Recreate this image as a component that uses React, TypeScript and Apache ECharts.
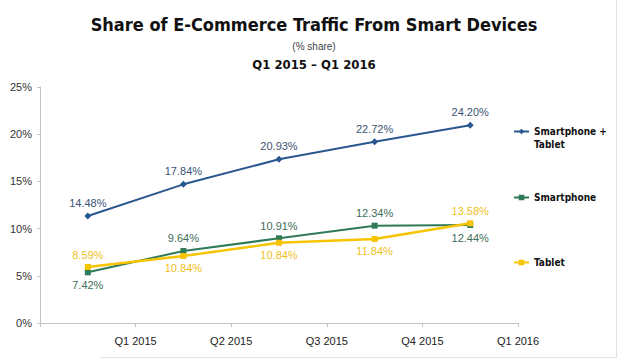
import React, { useEffect, useRef } from "react";
import * as echarts from "echarts";

const quarters = ["Q1 2015", "Q2 2015", "Q3 2015", "Q4 2015", "Q1 2016"];

const seriesNames = ["Smartphone + Tablet", "Smartphone", "Tablet"];

// plotted positions (% share)
const comboValues = [11.33, 14.69, 17.34, 19.2, 20.94];
const smartphoneValues = [5.37, 7.63, 8.97, 10.31, 10.38];
const tabletValues = [5.93, 7.1, 8.5, 8.9, 10.56];

// printed labels
const comboLabels = ["14.48%", "17.84%", "20.93%", "22.72%", "24.20%"];
const smartphoneLabels = ["7.42%", "9.64%", "10.91%", "12.34%", "12.44%"];
const tabletLabels = ["8.59%", "10.84%", "10.84%", "11.84%", "13.58%"];

const yTicks = [0, 5, 10, 15, 20, 25];

const comboSide = ["top", "top", "top", "top", "top"];
const smartphoneSide = ["bottom", "top", "top", "top", "bottom"];
const tabletSide = ["top", "bottom", "bottom", "bottom", "top"];

const colors = {
  combo: "#2b5790",
  comboLabel: "#3b5374",
  smartphone: "#2f7a58",
  smartphoneLabel: "#3d6e58",
  tablet: "#f6c400",
  tabletLabel: "#efbf1c",
};

const FONT = "'Liberation Sans', Arial, sans-serif";
const BOLD = "'DejaVu Sans Condensed', 'DejaVu Sans', sans-serif";

function build(values: number[], sides: string[]) {
  return values.map((v, i) => ({
    value: [i + 0.5, v],
    label: { position: sides[i] },
  }));
}

export default function App() {
  const ref = useRef<HTMLDivElement>(null);
  useEffect(() => {
    document.body.style.margin = "0";
    const chart = echarts.init(ref.current!, null, { renderer: "svg" });
    const labelBase = {
      show: true,
      fontFamily: FONT,
      fontSize: 11,
      distance: 4,
    };
    const legendText = { fontFamily: BOLD, fontWeight: "bold", fontSize: 10, color: "#111", lineHeight: 13 };
    chart.setOption({
      animation: false,
      backgroundColor: "#ffffff",
      title: [
        {
          text: "Share of E-Commerce Traffic From Smart Devices",
          left: 309,
          textAlign: "center",
          top: 10,
          textStyle: { fontFamily: BOLD, fontWeight: "bold", fontSize: 18, color: "#111" },
        },
        {
          text: "(% share)",
          left: 309,
          textAlign: "center",
          top: 36,
          textStyle: { fontFamily: FONT, fontWeight: "normal", fontSize: 10, color: "#444" },
        },
        {
          text: "Q1 2015 – Q1 2016",
          left: 309,
          textAlign: "center",
          top: 53,
          textStyle: { fontFamily: BOLD, fontWeight: "bold", fontSize: 13, color: "#111" },
        },
      ],
      grid: { left: 40, right: 101, top: 87, bottom: 40, containLabel: false },
      xAxis: {
        type: "value",
        min: 0,
        max: quarters.length,
        interval: 1,
        splitLine: { show: false },
        axisLine: { show: true, lineStyle: { color: "#c4c4c4", width: 1 } },
        axisTick: { show: true, length: 4, lineStyle: { color: "#c4c4c4" } },
        axisLabel: {
          fontFamily: FONT,
          fontSize: 11,
          color: "#222",
          margin: 12,
          formatter: (v: number) => (v >= 1 ? quarters[v - 1] : ""),
        },
      },
      yAxis: {
        type: "value",
        min: yTicks[0],
        max: yTicks[yTicks.length - 1],
        interval: 5,
        splitLine: { show: false },
        axisLine: { show: true, lineStyle: { color: "#c4c4c4", width: 1 } },
        axisTick: { show: true, length: 3, lineStyle: { color: "#c4c4c4" } },
        axisLabel: {
          fontFamily: FONT,
          fontSize: 11,
          color: "#333",
          margin: 8,
          formatter: (v: number) => v + "%",
        },
      },
      legend: [
        {
          data: [seriesNames[0]],
          left: 513,
          top: 112,
          padding: 0,
          itemWidth: 15,
          itemHeight: 7,
          formatter: () => " \nSmartphone +\nTablet",
          textStyle: legendText,
        },
        {
          data: [seriesNames[1]],
          left: 513,
          top: 191,
          padding: 0,
          itemWidth: 15,
          itemHeight: 7,
          textStyle: legendText,
        },
        {
          data: [seriesNames[2]],
          left: 513,
          top: 256,
          padding: 0,
          itemWidth: 15,
          itemHeight: 7,
          textStyle: legendText,
        },
      ],
      graphic: [
        {
          type: "polyline",
          shape: { points: [[616.5, 0], [616.5, 357.5], [100, 357.5]] },
          style: { stroke: "#e3e3e3", lineWidth: 1, fill: null },
          silent: true,
        },
      ],
      series: [
        {
          name: seriesNames[0],
          type: "line",
          data: build(comboValues, comboSide),
          symbol: "diamond",
          symbolSize: 7,
          color: colors.combo,
          lineStyle: { width: 2, color: colors.combo },
          itemStyle: { color: colors.combo },
          label: { ...labelBase, color: colors.comboLabel, formatter: (p: any) => comboLabels[p.dataIndex] },
        },
        {
          name: seriesNames[1],
          type: "line",
          data: build(smartphoneValues, smartphoneSide),
          symbol: "rect",
          symbolSize: 6,
          color: colors.smartphone,
          lineStyle: { width: 2, color: colors.smartphone },
          itemStyle: { color: colors.smartphone },
          label: { ...labelBase, color: colors.smartphoneLabel, formatter: (p: any) => smartphoneLabels[p.dataIndex] },
        },
        {
          name: seriesNames[2],
          type: "line",
          data: build(tabletValues, tabletSide),
          symbol: "rect",
          symbolSize: 6,
          color: colors.tablet,
          lineStyle: { width: 2.5, color: colors.tablet },
          itemStyle: { color: colors.tablet },
          label: { ...labelBase, color: colors.tabletLabel, formatter: (p: any) => tabletLabels[p.dataIndex] },
        },
      ],
    });
    return () => chart.dispose();
  }, []);
  return <div ref={ref} style={{ width: 619, height: 363 }} />;
}
